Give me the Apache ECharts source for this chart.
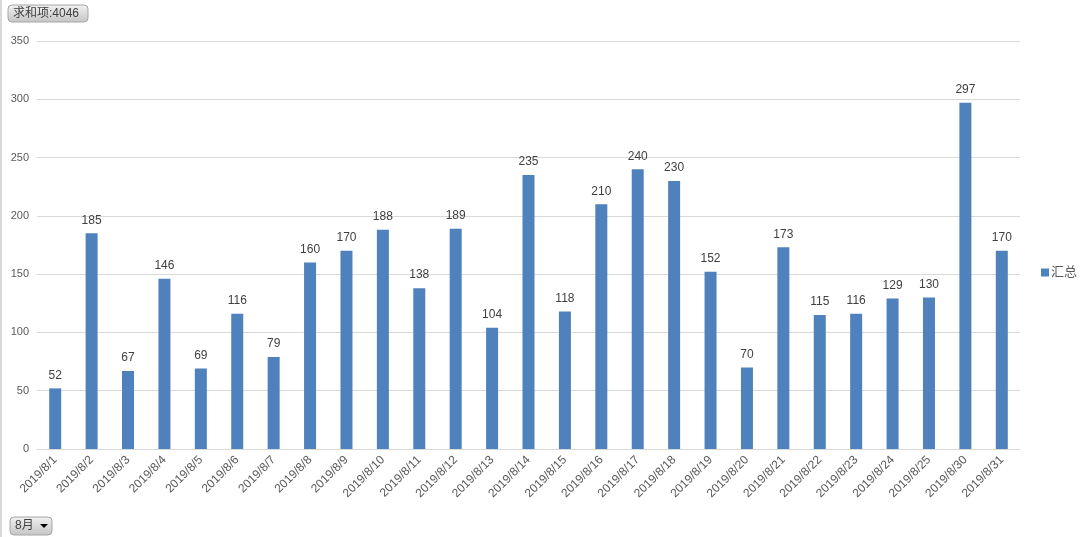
<!DOCTYPE html>
<html>
<head>
<meta charset="utf-8">
<script src="https://cdn.jsdelivr.net/npm/echarts@6/dist/echarts.min.js"></script>
<style>
  html, body { margin: 0; padding: 0; background: #fff; }
  #chart { width: 1086px; height: 537px; }
</style>
</head>
<body>
<div id="chart"></div>
<script>
// ─── Data ─────────────────────────────────────────────────────────────────
const days = [
  "2019/8/1", "2019/8/2", "2019/8/3", "2019/8/4", "2019/8/5", "2019/8/6",
  "2019/8/7", "2019/8/8", "2019/8/9", "2019/8/10", "2019/8/11", "2019/8/12",
  "2019/8/13", "2019/8/14", "2019/8/15", "2019/8/16", "2019/8/17", "2019/8/18",
  "2019/8/19", "2019/8/20", "2019/8/21", "2019/8/22", "2019/8/23", "2019/8/24",
  "2019/8/25", "2019/8/30", "2019/8/31"
];
const totals = [
  52, 185, 67, 146, 69, 116, 79, 160, 170, 188, 138, 189, 104, 235,
  118, 210, 240, 230, 152, 70, 173, 115, 116, 129, 130, 297, 170
];
const seriesName = "汇总";
const sumLabel = "求和项:4046";
const monthLabel = "8月";

const FONT = "'Liberation Sans', 'Noto Sans CJK SC', sans-serif";
const BAR = "#4f81bd";

// ─── Chart ────────────────────────────────────────────────────────────────
const chart = echarts.init(document.getElementById("chart"));

// grey pivot-table style buttons
function pivotButton(x, y, w, h, text, withArrow) {
  const children = [{
    type: "rect",
    shape: { x: 0, y: 0, width: w, height: h, r: 4 },
    style: {
      fill: new echarts.graphic.LinearGradient(0, 0, 0, 1, [
        { offset: 0, color: "#f2f2f2" },
        { offset: 1, color: "#c4c4c4" }
      ]),
      stroke: "#a6a6a6",
      lineWidth: 1
    }
  }, {
    type: "text",
    style: {
      x: 5, y: h / 2, text: text, fill: "#404040",
      font: "12px " + FONT, verticalAlign: "middle"
    }
  }];
  if (withArrow) {
    children.push({
      type: "polygon",
      shape: { points: [[w - 12, h / 2 - 2], [w - 4, h / 2 - 2], [w - 8, h / 2 + 2]] },
      style: { fill: "#000" }
    });
  }
  return { type: "group", x: x, y: y, children: children };
}

chart.setOption({
  animation: false,
  textStyle: { fontFamily: FONT },
  grid: { left: 37, right: 66, top: 41, bottom: 88 },
  legend: {
    orient: "vertical",
    left: 1036,
    top: 261,
    itemWidth: 8,
    itemHeight: 8,
    itemGap: 4,
    icon: "rect",
    textStyle: { fontSize: 13, color: "#595959", padding: [0, 0, 0, -3] },
    data: [seriesName]
  },
  xAxis: {
    type: "category",
    data: days,
    axisLine: { lineStyle: { color: "#d9d9d9" } },
    axisTick: { show: false },
    axisLabel: { rotate: 45, fontSize: 12, color: "#595959", margin: 9, interval: 0 }
  },
  yAxis: {
    type: "value",
    min: 0,
    max: 350,
    interval: 50,
    axisLine: { show: false },
    axisTick: { show: false },
    splitLine: { lineStyle: { color: "#d9d9d9" } },
    axisLabel: { fontSize: 11, color: "#595959", margin: 8 }
  },
  series: [{
    name: seriesName,
    type: "bar",
    data: totals,
    barWidth: 12,
    itemStyle: { color: BAR },
    label: {
      show: true,
      position: "top",
      distance: 7,
      fontSize: 12,
      color: "#404040"
    }
  }],
  graphic: [
    {
      type: "line",
      shape: { x1: 1, y1: 0, x2: 1, y2: 537 },
      style: { stroke: "#d9d9d9", lineWidth: 2 }
    },
    pivotButton(8, 5, 80, 17, sumLabel, false),
    pivotButton(10, 517, 42, 18, monthLabel, true)
  ]
});
</script>
</body>
</html>
